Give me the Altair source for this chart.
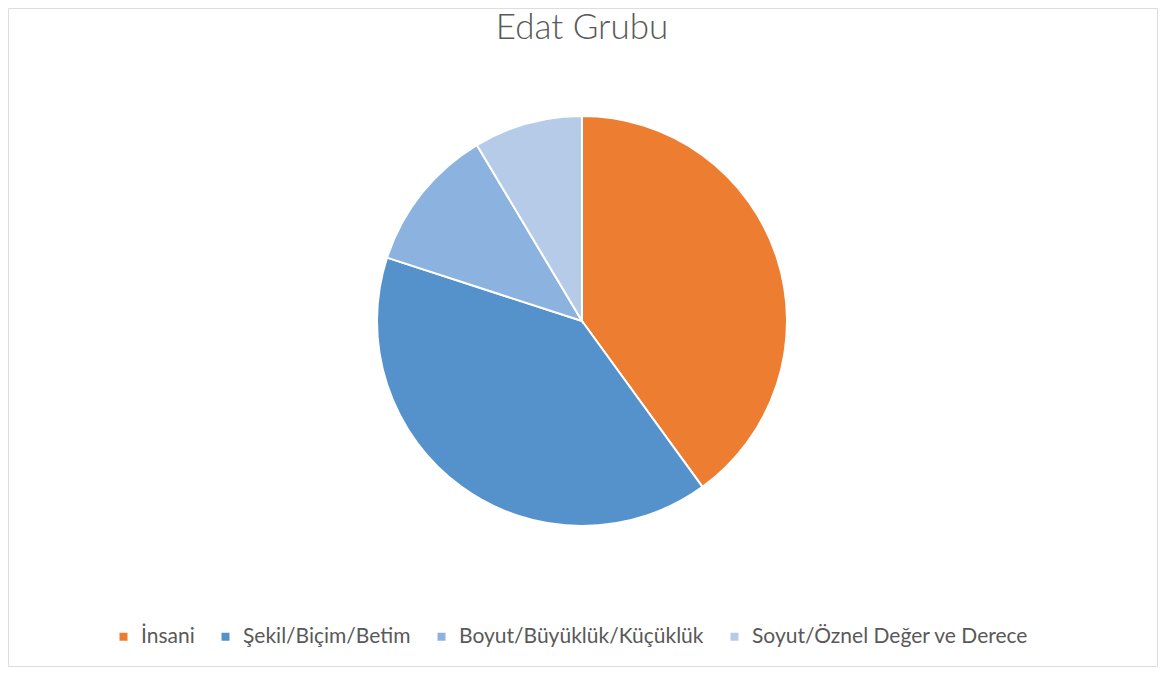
import altair as alt
import pandas as pd

categories = ["İnsani", "Şekil/Biçim/Betim", "Boyut/Büyüklük/Küçüklük", "Soyut/Öznel Değer ve Derece"]
values = [14, 14, 4, 3]
colors = ["#ED7D31", "#5592CC", "#8CB3DF", "#B6CBE8"]
title_text = ["Edat Grubu"]

df = pd.DataFrame({"category": categories, "value": values, "idx": list(range(len(categories)))})
tdf = pd.DataFrame({"t": title_text})

W, H = 1149, 658
CX, CY, R = 574, 313, 205

pie = alt.Chart(df).mark_arc(outerRadius=R, stroke="white", strokeWidth=2).encode(
    theta=alt.Theta("value:Q", stack=True),
    color=alt.Color(
        "category:N",
        scale=alt.Scale(domain=categories, range=colors),
        legend=alt.Legend(
            title=None,
            orient="none",
            legendX=105,
            legendY=618,
            direction="horizontal",
            symbolType="square",
            symbolSize=64,
            symbolStrokeWidth=0,
            labelFont="Lato",
            labelFontSize=21,
            labelColor="#595959",
            labelOffset=7,
            labelLimit=600,
            columnPadding=20,
        ),
    ),
    order=alt.Order("idx:Q"),
    x=alt.value(CX),
    y=alt.value(CY),
)

title = alt.Chart(tdf).mark_text(
    font="Lato", fontSize=35, fontWeight=300, color="#595959", baseline="alphabetic", align="center"
).encode(text="t:N", x=alt.value(CX), y=alt.value(31))

chart = alt.layer(pie, title).properties(
    width=W, height=H,
    padding={"left": 0, "top": 0, "right": 2, "bottom": 2},
    autosize=alt.AutoSizeParams(type="none"),
).configure_view(stroke="#D9D9D9", strokeWidth=1).configure(background="white")

chart.save("out.html", embed_options={"renderer": "svg", "actions": False})
